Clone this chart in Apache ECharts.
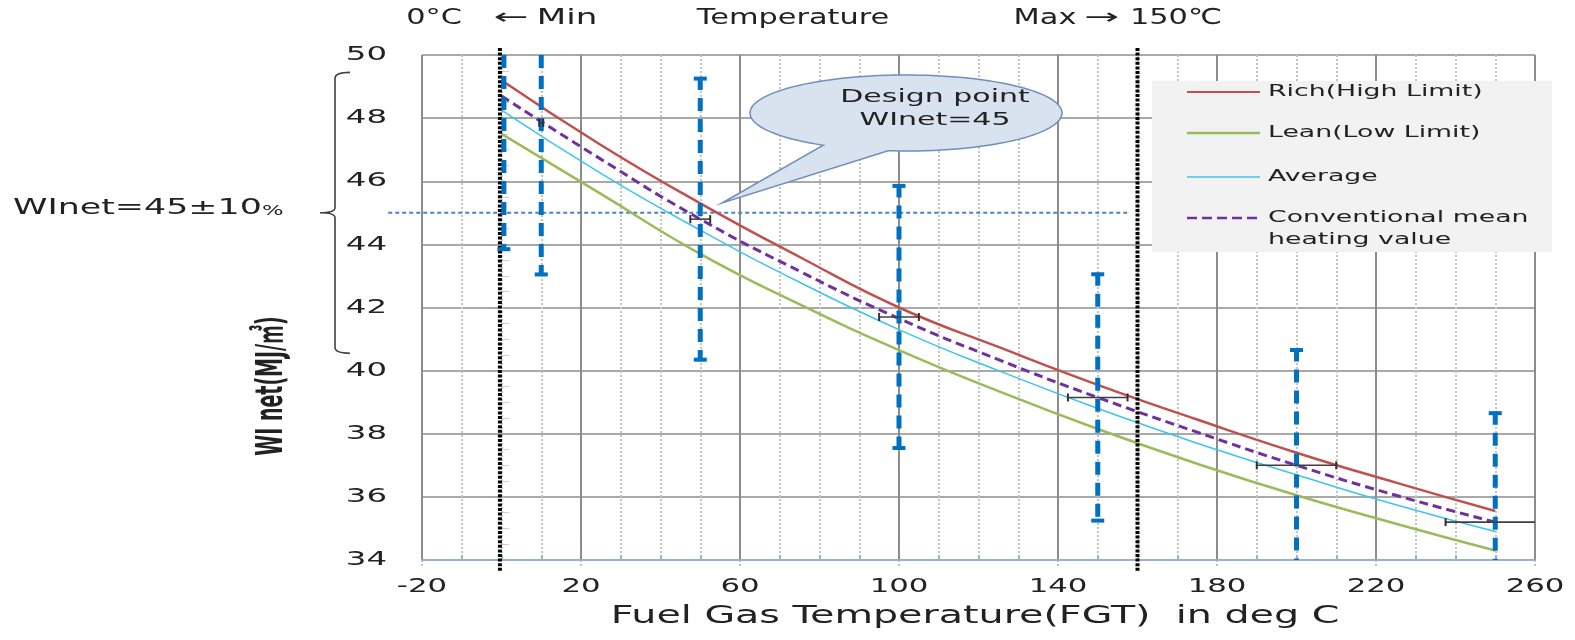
<!DOCTYPE html>
<html>
<head>
<meta charset="utf-8">
<title>WI net vs Fuel Gas Temperature</title>
<script src="https://cdn.jsdelivr.net/npm/echarts@6.0.0/dist/echarts.min.js"></script>
<style>
html,body{margin:0;padding:0;background:#ffffff;}
#chart{width:1575px;height:640px;}
</style>
</head>
<body>
<div id="chart"></div>
<script>
// ---------- data ----------
const temps        = [0, 25, 50, 75, 100, 125, 150, 175, 200, 225, 250];
const rich         = [49.2, 47.15, 45.3, 43.6, 42.0, 40.75, 39.55, 38.45, 37.4, 36.45, 35.55];
const lean         = [47.5, 45.6, 43.7, 42.1, 40.65, 39.35, 38.15, 37.05, 36.05, 35.15, 34.3];
const average      = [48.25, 46.25, 44.45, 42.8, 41.3, 40.0, 38.8, 37.7, 36.7, 35.75, 34.9];
const conventional = [48.7, 46.7, 44.8, 43.15, 41.65, 40.35, 39.15, 38.05, 37.0, 36.05, 35.2];

const pointT = [0.6, 10, 50, 100, 150, 200, 250];
const pointW = [48.7, 47.85, 44.8, 41.7, 39.15, 37.0, 35.2];
const wLow   = [43.8, 43.0, 40.3, 37.5, 35.2, 33.3, 31.7];
const wHigh  = [53.6, 52.6, 49.3, 45.9, 43.1, 40.7, 38.7];
const tLow   = [0.6, 9.5, 47.5, 95, 142.5, 190, 237.5];
const tHigh  = [0.6, 10.5, 52.5, 105, 157.5, 210, 262.5];

const xTicks = [-20, 20, 60, 100, 140, 180, 220, 260];
const yTicks = [34, 36, 38, 40, 42, 44, 46, 48, 50];

const limitT     = [-0.4, 160];       // Min / Max temperature lines
const designW    = 45;                // design point WI
const designSpan = [-28.5, 158];      // extent of the dotted design line
const bandW      = [40.55, 49.45];    // WInet = 45 ±10 % brace

// ---------- styling helpers ----------
const S = 1.62;   // horizontal stretch of the reference lettering
const FONT = '"DejaVu Sans", "Noto Sans CJK JP", sans-serif';
const TXT = '#222222';

function sText(text, x, y, size, extra) {
  extra = extra || {};
  return {
    type: 'text', x: x, y: y, scaleX: extra.scaleX || S, scaleY: extra.scaleY || 1,
    rotation: extra.rotation || 0, z: 100,
    style: {
      text: text, fontSize: size, fontFamily: FONT, fontWeight: extra.weight || 'normal',
      fill: extra.fill || TXT, align: extra.align || 'center', verticalAlign: 'middle',
      lineHeight: extra.lineHeight, rich: extra.rich
    }
  };
}

const xMin = xTicks[0], xMax = xTicks[xTicks.length - 1];
const yMin = yTicks[0], yMax = yTicks[yTicks.length - 1];

function curve(name, values, color, width, type) {
  return {
    name: name, type: 'line', smooth: true, showSymbol: false, symbol: 'none', z: 3,
    data: temps.map((t, i) => [t, values[i]]),
    lineStyle: { color: color, width: width, type: type || 'solid' },
    itemStyle: { color: color }
  };
}

// ---------- callout shape (ellipse + tail) ----------
const cx = 906, cy = 113, rx = 156, ry = 38;
const calloutPts = [];
for (let a = 122; a <= 456.6; a += 3) {
  const r = a * Math.PI / 180;
  calloutPts.push([cx + rx * Math.cos(r), cy + ry * Math.sin(r)]);
}
calloutPts.push([cx + rx * Math.cos(96.6 * Math.PI / 180), cy + ry * Math.sin(96.6 * Math.PI / 180)]);
calloutPts.push([722, 203]);

const chart = echarts.init(document.getElementById('chart'), null, { renderer: 'canvas' });

const TOP_S = 1.38;

const option = {
  animation: false,
  backgroundColor: '#ffffff',
  grid: { left: 422, right: 40, top: 55, bottom: 80, containLabel: false },
  xAxis: [
    {
      type: 'value', min: xMin, max: xMax, interval: 40,
      axisLine: { show: true, onZero: false, lineStyle: { color: '#95b3d7', width: 1.5 } },
      axisTick: { show: true, length: 8, lineStyle: { color: '#95b3d7', width: 1.5, type: [2, 2] } },
      axisLabel: { show: false },
      splitLine: { show: true, lineStyle: { color: '#8c8c8c', width: 2 } },
      minorTick: { show: false, splitNumber: 4 },
      minorSplitLine: { show: true, lineStyle: { color: '#c4c4c4', width: 2, type: [2, 2] } }
    },
    {
      type: 'value', min: xMin, max: xMax, interval: 40, position: 'bottom',
      axisLine: { show: false }, axisLabel: { show: false }, splitLine: { show: false },
      axisTick: { show: false, inside: true },
      minorTick: { show: true, splitNumber: 4, length: 5, lineStyle: { color: '#95b3d7', width: 2 } }
    }
  ],
  yAxis: [
    {
      type: 'value', min: yMin, max: yMax, interval: 2,
      axisLine: { show: false },
      axisTick: { show: true, length: 12, lineStyle: { color: '#a0a0a0', width: 1, type: [1, 1] } },
      axisLabel: { show: false },
      splitLine: { show: true, lineStyle: { color: '#8c8c8c', width: 1.5 } }
    },
    {
      type: 'value', min: yMin, max: yMax, interval: 2, position: 'left',
      axisLine: { show: false }, axisLabel: { show: false }, splitLine: { show: false },
      axisTick: { show: false, inside: true },
      minorTick: { show: true, splitNumber: 4, length: 7, lineStyle: { color: '#a0a0a0', width: 1, type: [1, 1] } }
    }
  ],
  series: [
    // dotted design line WI = 45
    {
      name: 'design', type: 'custom', clip: false, silent: true, z: 2,
      data: [[designSpan[0], designW, designSpan[1]]],
      renderItem: function (params, api) {
        const a = api.coord([api.value(0), api.value(1)]);
        const b = api.coord([api.value(2), api.value(1)]);
        return { type: 'line', shape: { x1: a[0], y1: a[1], x2: b[0], y2: b[1] },
          style: { stroke: '#4f81bd', lineWidth: 2, lineDash: [4, 3] } };
      }
    },
    curve('Rich(High Limit)', rich, '#c0504d', 2.5),
    curve('Lean(Low Limit)', lean, '#9bbb59', 2.5),
    curve('Average', average, '#3cc4ef', 1.5),
    curve('Conventional mean heating value', conventional, '#7030a0', 3, [9, 5]),
    // Min / Max temperature lines
    {
      name: 'limits', type: 'custom', clip: false, silent: true, z: 4,
      data: limitT.map(t => [t, yMax]),
      renderItem: function (params, api) {
        const p = api.coord([api.value(0), api.value(1)]);
        const cs = params.coordSys;
        return { type: 'line', shape: { x1: p[0], y1: cs.y - 7, x2: p[0], y2: cs.y + cs.height + 12 },
          style: { stroke: '#000000', lineWidth: 4, lineDash: [3, 1.6] } };
      }
    },
    // vertical ±10 % bars
    {
      name: 'wiRange', type: 'custom', clip: false, silent: true, z: 5,
      data: pointT.map((t, i) => [t, wLow[i], wHigh[i]]),
      renderItem: function (params, api) {
        const t = api.value(0);
        const lo = api.coord([t, api.value(1)]);
        const hi = api.coord([t, api.value(2)]);
        const cs = params.coordSys;
        const top = cs.y, bot = cs.y + cs.height;
        const y1 = Math.max(hi[1], top), y2 = Math.min(lo[1], bot);
        const x = lo[0];
        const ch = [{ type: 'line', shape: { x1: x, y1: y1, x2: x, y2: y2 },
          style: { stroke: '#0070c0', lineWidth: 5, lineDash: [13, 8] } }];
        if (hi[1] >= top) ch.push({ type: 'line', shape: { x1: x - 6.5, y1: hi[1] + 1.5, x2: x + 6.5, y2: hi[1] + 1.5 },
          style: { stroke: '#0070c0', lineWidth: 4 } });
        if (lo[1] <= bot) ch.push({ type: 'line', shape: { x1: x - 6.5, y1: lo[1] - 1.5, x2: x + 6.5, y2: lo[1] - 1.5 },
          style: { stroke: '#0070c0', lineWidth: 4 } });
        return { type: 'group', children: ch };
      }
    },
    // horizontal temperature bars
    {
      name: 'tRange', type: 'custom', clip: false, silent: true, z: 6,
      data: pointT.map((t, i) => [tLow[i], pointW[i], tHigh[i]]),
      renderItem: function (params, api) {
        if (api.value(2) - api.value(0) <= 0) return null;
        const a = api.coord([api.value(0), api.value(1)]);
        const b = api.coord([api.value(2), api.value(1)]);
        const cs = params.coordSys;
        const right = cs.x + cs.width;
        const xr = Math.min(b[0], right);
        const ch = [
          { type: 'line', shape: { x1: a[0], y1: a[1], x2: xr, y2: a[1] }, style: { stroke: '#404040', lineWidth: 1.6 } },
          { type: 'line', shape: { x1: a[0], y1: a[1] - 4, x2: a[0], y2: a[1] + 4 }, style: { stroke: '#303030', lineWidth: 2 } }
        ];
        if (b[0] <= right) ch.push({ type: 'line', shape: { x1: b[0], y1: b[1] - 4, x2: b[0], y2: b[1] + 4 }, style: { stroke: '#303030', lineWidth: 2 } });
        return { type: 'group', children: ch };
      }
    },
    // brace for WInet = 45 ±10 %
    {
      name: 'brace', type: 'custom', clip: false, silent: true, z: 6,
      data: [[bandW[0], designW, bandW[1]]],
      renderItem: function (params, api) {
        const lo = api.coord([xMin, api.value(0)]);
        const md = api.coord([xMin, api.value(1)]);
        const hi = api.coord([xMin, api.value(2)]);
        const bx = lo[0] - 87;
        const yT = hi[1], yM = md[1], yB = lo[1];
        const d = 'M' + (bx + 15) + ' ' + yT + ' Q' + bx + ' ' + yT + ' ' + bx + ' ' + (yT + 6) +
          ' L' + bx + ' ' + (yM - 5) + ' Q' + bx + ' ' + yM + ' ' + (bx - 15) + ' ' + yM +
          ' Q' + bx + ' ' + yM + ' ' + bx + ' ' + (yM + 5) +
          ' L' + bx + ' ' + (yB - 6) + ' Q' + bx + ' ' + yB + ' ' + (bx + 15) + ' ' + yB;
        return { type: 'path', shape: { pathData: d }, style: { fill: null, stroke: '#404040', lineWidth: 1.6 } };
      }
    },
    // x tick labels
    {
      name: 'xLabels', type: 'custom', clip: false, silent: true, z: 7,
      data: xTicks.map(v => [v, yMin]),
      renderItem: function (params, api) {
        const p = api.coord([api.value(0), api.value(1)]);
        return { type: 'text', x: p[0], y: p[1] + 27, scaleX: S,
          style: { text: String(api.value(0)), fontSize: 19, fontFamily: FONT, fill: TXT, align: 'center', verticalAlign: 'middle' } };
      }
    },
    // y tick labels
    {
      name: 'yLabels', type: 'custom', clip: false, silent: true, z: 7,
      data: yTicks.map(v => [xMin, v]),
      renderItem: function (params, api) {
        const p = api.coord([api.value(0), api.value(1)]);
        return { type: 'text', x: p[0] - 35, y: p[1], scaleX: S,
          style: { text: String(api.value(1)), fontSize: 20, fontFamily: FONT, fill: TXT, align: 'right', verticalAlign: 'middle' } };
      }
    }
  ],
  graphic: [
    // top annotations
    sText('0°C', 434, 18, 22, { scaleX: TOP_S }),
    sText('←', 511, 18, 22, { scaleX: 1.9 }),
    sText('Min', 567, 18, 22, { scaleX: 1.55 }),
    sText('Temperature', 793, 18, 22, { scaleX: TOP_S }),
    sText('Max', 1045, 18, 22, { scaleX: TOP_S }),
    sText('→', 1102, 18, 22, { scaleX: 1.9 }),
    sText('150℃', 1176, 18, 22, { scaleX: TOP_S }),
    // left annotation
    sText('WInet=45±10{p|%}', 13, 208, 21.5, { align: 'left', rich: { p: { fontSize: 14, fontFamily: FONT, fill: TXT, verticalAlign: 'bottom' } } }),
    // axis names
    sText('Fuel Gas Temperature(FGT)  in deg C', 975, 617, 24, { scaleX: 1.65 }),
    sText('WI net(MJ/㎥)', 272, 386, 19, { weight: 'bold', rotation: Math.PI / 2, scaleX: 1, scaleY: 2.0 }),
    // callout
    { type: 'polygon', z: 90, shape: { points: calloutPts },
      style: { fill: '#d9e3f0', stroke: '#6f8fba', lineWidth: 1.5 } },
    sText('Design point', 935, 97, 18.5),
    sText('WInet=45', 935, 120, 18.5),
    // legend box
    { type: 'rect', z: 90, shape: { x: 1152, y: 81, width: 400, height: 171 }, style: { fill: '#f2f2f2' } },
    { type: 'line', z: 95, shape: { x1: 1187, y1: 92, x2: 1260, y2: 92 }, style: { stroke: '#c0504d', lineWidth: 2 } },
    { type: 'line', z: 95, shape: { x1: 1187, y1: 133, x2: 1260, y2: 133 }, style: { stroke: '#9bbb59', lineWidth: 2.5 } },
    { type: 'line', z: 95, shape: { x1: 1187, y1: 177, x2: 1260, y2: 177 }, style: { stroke: '#3cc4ef', lineWidth: 1.5 } },
    { type: 'line', z: 95, shape: { x1: 1187, y1: 218, x2: 1260, y2: 218 }, style: { stroke: '#7030a0', lineWidth: 2.5, lineDash: [10, 5] } },
    sText('Rich(High Limit)', 1268, 92, 16.5, { align: 'left' }),
    sText('Lean(Low Limit)', 1268, 133, 16.5, { align: 'left' }),
    sText('Average', 1268, 177, 16.5, { align: 'left' }),
    sText('Conventional mean\nheating value', 1268, 229, 16.5, { align: 'left', lineHeight: 22 })
  ]
};

chart.setOption(option);
</script>
</body>
</html>
